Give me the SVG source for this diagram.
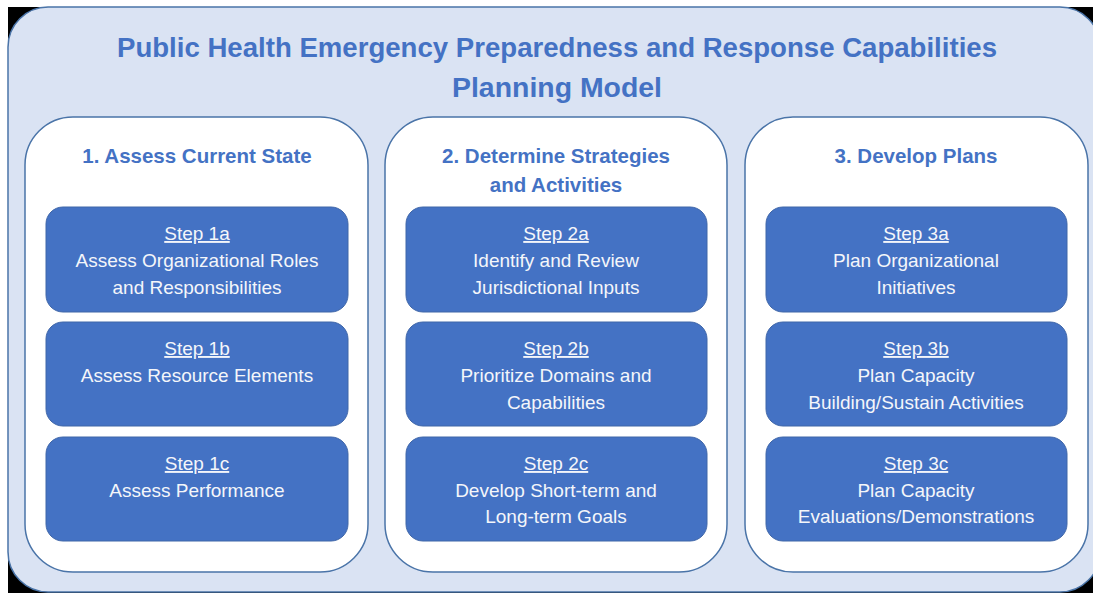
<svg xmlns="http://www.w3.org/2000/svg" width="1093" height="593" viewBox="0 0 1093 593">
<style>
.title{font-family:"Liberation Sans",Arial,sans-serif;font-weight:bold;font-size:27px;fill:#4472C4;text-anchor:middle}
.head{font-family:"Liberation Sans",Arial,sans-serif;font-weight:bold;font-size:20.5px;fill:#4472C4;text-anchor:middle}
.panel{fill:#FFFFFF;stroke:#4A74A8;stroke-width:1.5}
.step{fill:#4472C4;stroke:#3F66A8;stroke-width:1}
.st{font-family:"Liberation Sans",Arial,sans-serif;font-size:19px;fill:#F4F6FA;text-anchor:middle}
.u{text-decoration:underline}
</style>
<rect x="0" y="0" width="1093" height="593" fill="#FFFFFF"/>
<rect x="8" y="7" width="1092" height="586" fill="#000000"/>
<rect id="outer" x="8" y="7" width="1092" height="585" rx="40" ry="40" fill="#DAE3F3" stroke="#4A74A8" stroke-width="1.5"/>
<g id="title">
<text class="title" x="557" y="57" textLength="880" lengthAdjust="spacingAndGlyphs">Public Health Emergency Preparedness and Response Capabilities</text>
<text class="title" x="557" y="97" textLength="210" lengthAdjust="spacingAndGlyphs">Planning Model</text>
</g>
<g id="panel1">
<rect class="panel" x="25" y="117" width="343" height="455" rx="48" ry="48"/>
<text class="head" x="197" y="163">1. Assess Current State</text>
</g>
<g id="panel2">
<rect class="panel" x="385" y="117" width="342" height="455" rx="48" ry="48"/>
<text class="head" x="556" y="163">2. Determine Strategies</text>
<text class="head" x="556" y="192">and Activities</text>
</g>
<g id="panel3">
<rect class="panel" x="745" y="117" width="343" height="455" rx="48" ry="48"/>
<text class="head" x="916" y="163">3. Develop Plans</text>
</g>
<g id="step1a">
<rect class="step" x="46" y="207" width="302" height="105" rx="17" ry="17"/>
<text class="st u" x="197" y="240">Step 1a</text>
<text class="st" x="197" y="267">Assess Organizational Roles</text>
<text class="st" x="197" y="294">and Responsibilities</text>
</g>
<g id="step1b">
<rect class="step" x="46" y="322" width="302" height="104" rx="17" ry="17"/>
<text class="st u" x="197" y="355">Step 1b</text>
<text class="st" x="197" y="382">Assess Resource Elements</text>
</g>
<g id="step1c">
<rect class="step" x="46" y="437" width="302" height="104" rx="17" ry="17"/>
<text class="st u" x="197" y="470">Step 1c</text>
<text class="st" x="197" y="497">Assess Performance</text>
</g>
<g id="step2a">
<rect class="step" x="406" y="207" width="301" height="105" rx="17" ry="17"/>
<text class="st u" x="556" y="240">Step 2a</text>
<text class="st" x="556" y="267">Identify and Review</text>
<text class="st" x="556" y="294">Jurisdictional Inputs</text>
</g>
<g id="step2b">
<rect class="step" x="406" y="322" width="301" height="104" rx="17" ry="17"/>
<text class="st u" x="556" y="355">Step 2b</text>
<text class="st" x="556" y="382">Prioritize Domains and</text>
<text class="st" x="556" y="409">Capabilities</text>
</g>
<g id="step2c">
<rect class="step" x="406" y="437" width="301" height="104" rx="17" ry="17"/>
<text class="st u" x="556" y="470">Step 2c</text>
<text class="st" x="556" y="497">Develop Short-term and</text>
<text class="st" x="556" y="523">Long-term Goals</text>
</g>
<g id="step3a">
<rect class="step" x="766" y="207" width="301" height="105" rx="17" ry="17"/>
<text class="st u" x="916" y="240">Step 3a</text>
<text class="st" x="916" y="267">Plan Organizational</text>
<text class="st" x="916" y="294">Initiatives</text>
</g>
<g id="step3b">
<rect class="step" x="766" y="322" width="301" height="104" rx="17" ry="17"/>
<text class="st u" x="916" y="355">Step 3b</text>
<text class="st" x="916" y="382">Plan Capacity</text>
<text class="st" x="916" y="409">Building/Sustain Activities</text>
</g>
<g id="step3c">
<rect class="step" x="766" y="437" width="301" height="104" rx="17" ry="17"/>
<text class="st u" x="916" y="470">Step 3c</text>
<text class="st" x="916" y="497">Plan Capacity</text>
<text class="st" x="916" y="523">Evaluations/Demonstrations</text>
</g>
<g id="connectors"></g>
</svg>
